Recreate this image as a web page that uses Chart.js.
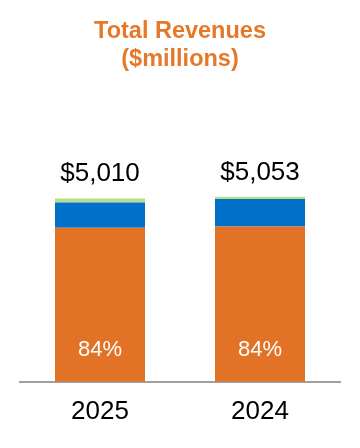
<!DOCTYPE html>
<html>
<head>
<meta charset="utf-8">
<style>
  html, body { margin: 0; padding: 0; background: #ffffff; }
  #wrap { width: 360px; height: 448px; position: relative; }
</style>
<script src="https://cdn.jsdelivr.net/npm/chart.js@4/dist/chart.umd.min.js"></script>
</head>
<body>
<div id="wrap"><canvas id="c" width="360" height="448"></canvas></div>
<script>
const categories = ["2025", "2024"];
const totals = [5010, 5053];
const orangeVals = [4208, 4245];
const blueVals = [692, 753];
const greenVals = [110, 55];
const titleLines = ["Total Revenues", "($millions)"];

const FONT = "'Liberation Sans', Arial, Helvetica, sans-serif";

const labelPlugin = {
  id: 'stackLabels',
  afterDatasetsDraw(chart) {
    const ctx = chart.ctx;
    const topMeta = chart.getDatasetMeta(chart.data.datasets.length - 1);
    const baseMeta = chart.getDatasetMeta(0);
    ctx.save();
    ctx.textAlign = 'center';
    ctx.textBaseline = 'alphabetic';
    categories.forEach((c, i) => {
      const topBar = topMeta.data[i];
      ctx.fillStyle = '#000000';
      ctx.font = '26px ' + FONT;
      ctx.fillText('$' + totals[i].toLocaleString('en-US'), topBar.x, topBar.y - 17);
      const baseBar = baseMeta.data[i];
      const pct = Math.round(orangeVals[i] / totals[i] * 100);
      ctx.fillStyle = '#ffffff';
      ctx.font = '22px ' + FONT;
      ctx.fillText(pct + '%', baseBar.x, baseBar.base - 26);
    });
    ctx.restore();
  }
};

new Chart(document.getElementById('c'), {
  type: 'bar',
  data: {
    labels: categories,
    datasets: [
      { label: 'Segment 1', data: orangeVals, backgroundColor: '#E27326', borderWidth: 0 },
      { label: 'Segment 2', data: blueVals, backgroundColor: '#0070C8', borderWidth: 0 },
      { label: 'Segment 3', data: greenVals, backgroundColor: '#B5E08C', borderWidth: 0 }
    ]
  },
  options: {
    responsive: false,
    animation: false,
    devicePixelRatio: 1,
    layout: { padding: { left: 20, right: 20, top: 0, bottom: 15 } },
    datasets: { bar: { categoryPercentage: 0.75, barPercentage: 0.75 } },
    plugins: {
      legend: { display: false },
      tooltip: { enabled: false },
      title: {
        display: true,
        text: titleLines,
        color: '#E6782A',
        font: { family: FONT, size: 23.5, weight: 'bold', lineHeight: 1.2 },
        padding: { top: 17, bottom: 20 }
      }
    },
    scales: {
      x: {
        stacked: true,
        grid: { display: false },
        border: { display: true, color: '#a0a0a0', width: 2 },
        ticks: { color: '#000000', font: { family: FONT, size: 26 }, padding: 6 }
      },
      y: {
        stacked: true,
        display: false,
        min: 0,
        max: 7880
      }
    }
  },
  plugins: [labelPlugin]
});
</script>
</body>
</html>
